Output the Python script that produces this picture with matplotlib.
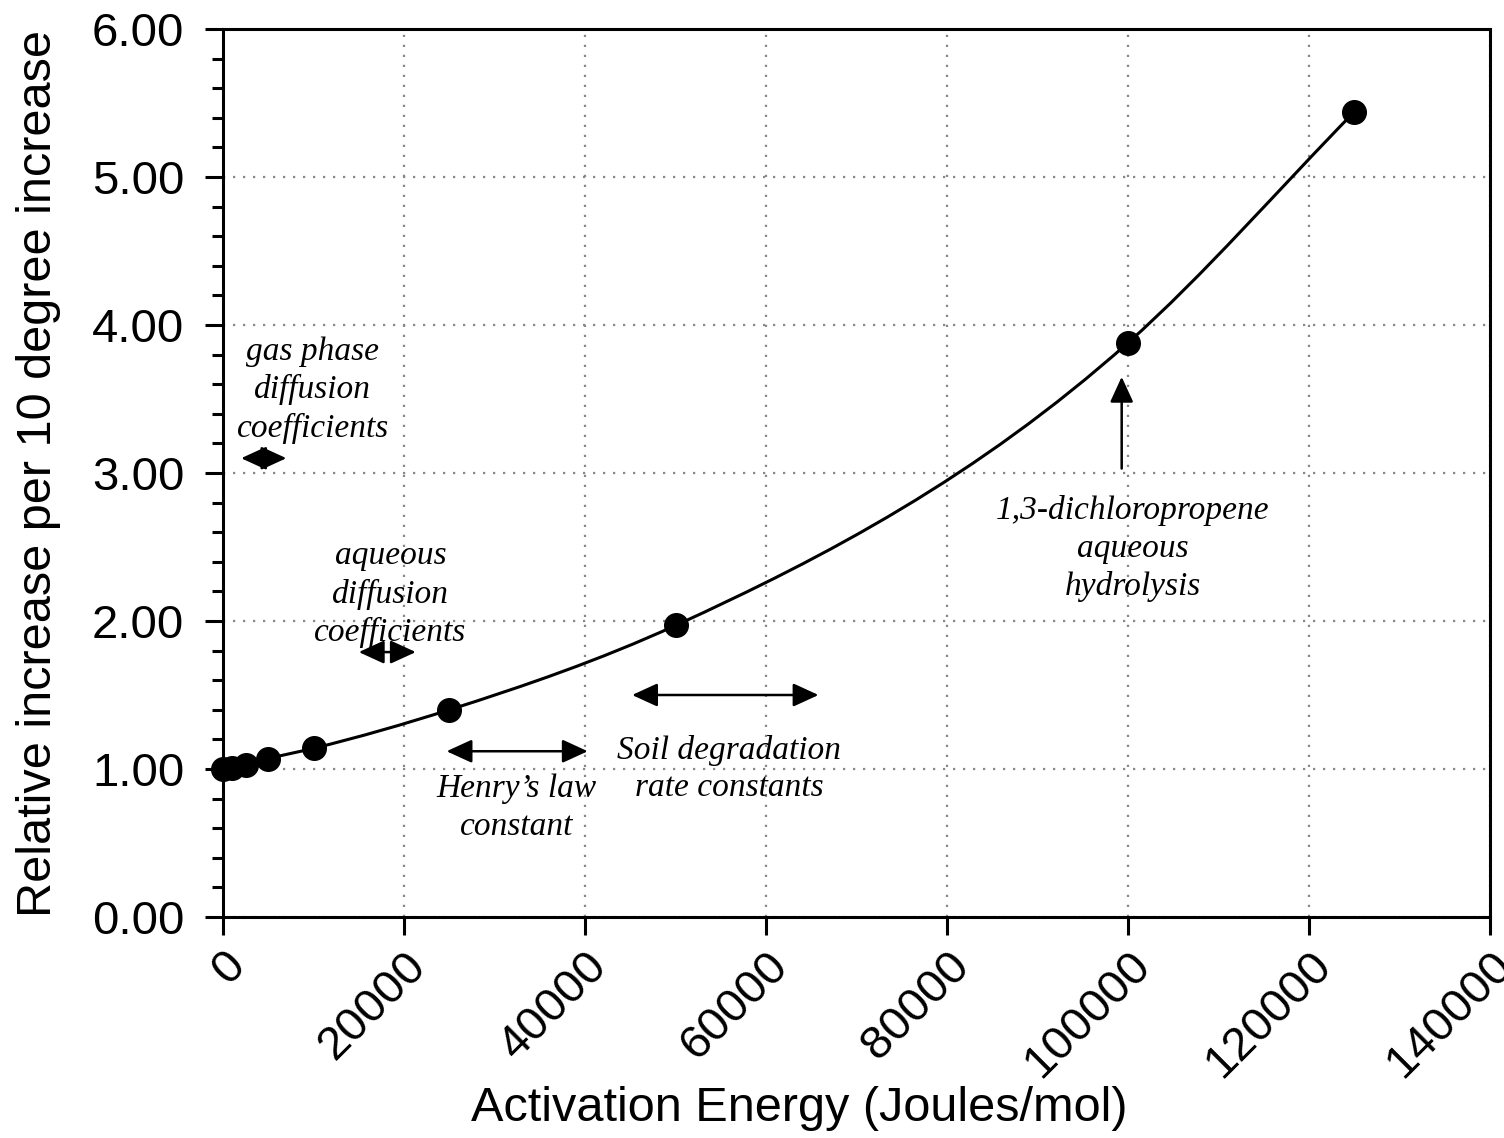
import matplotlib
matplotlib.use("Agg")
import matplotlib.pyplot as plt
from matplotlib.path import Path
from matplotlib.patches import PathPatch
from matplotlib.ticker import MultipleLocator, FormatStrFormatter
import numpy as np

# activation energy (J/mol) and relative increase per 10 degrees
energy = [0, 1000, 2500, 5000, 10000, 25000, 50000, 100000, 125000]
increase = [1.00, 1.01, 1.03, 1.07, 1.14, 1.40, 1.97, 3.88, 5.44]

# range arrows: (x start, x end, y)
ranges = [
    (2000, 7000, 3.10),
    (15000, 21300, 1.79),
    (24700, 40300, 1.12),
    (45200, 65800, 1.50),
]
# labels: (text, x, y)
labels = [
    ("gas phase\ndiffusion\ncoefficients", 9900, 3.56),
    ("aqueous\ndiffusion\ncoefficients", 18500, 2.18),
    ("Henry\u2019s law\nconstant", 32400, 0.74),
    ("Soil degradation\nrate constants", 55900, 1.00),
    ("1,3-dichloropropene\naqueous\nhydrolysis", 100500, 2.49),
]
hydrolysis_arrow = (99300, 3.03, 3.65)

plt.rcParams['font.family'] = ['Liberation Sans', 'DejaVu Sans']

fig = plt.figure(figsize=(15.04, 11.38), dpi=100)
ax = fig.add_axes([0.1483, 0.1942, 0.8424, 0.7803])

# smooth line through the points: cubic Hermite segments written as Bezier curves
xs = np.array(energy, dtype=float)
ys = np.array(increase, dtype=float)
h = np.diff(xs)
d = np.diff(ys) / h
m = np.empty_like(xs)
m[0] = d[0]
m[-1] = d[-1]
m[1:-1] = (d[:-1] * h[1:] + d[1:] * h[:-1]) / (h[:-1] + h[1:])
verts = [(xs[0], ys[0])]
codes = [Path.MOVETO]
for i in range(len(xs) - 1):
    verts += [(xs[i] + h[i] / 3, ys[i] + m[i] * h[i] / 3),
              (xs[i + 1] - h[i] / 3, ys[i + 1] - m[i + 1] * h[i] / 3),
              (xs[i + 1], ys[i + 1])]
    codes += [Path.CURVE4] * 3
ax.add_patch(PathPatch(Path(verts, codes), facecolor='none', edgecolor='black',
                       lw=2.2, zorder=3))

ax.plot(energy, increase, 'o', color='black', ms=17, zorder=4, clip_on=False)

astyle = dict(color='black', lw=1.8, shrinkA=0, shrinkB=0, mutation_scale=13)
for x0, x1, y in ranges:
    ax.annotate('', xy=(x1, y), xytext=(x0, y),
                arrowprops=dict(arrowstyle='<|-|>,head_length=1.2,head_width=0.55', **astyle))

hx, hy0, hy1 = hydrolysis_arrow
ax.annotate('', xy=(hx, hy1), xytext=(hx, hy0),
            arrowprops=dict(arrowstyle='-|>,head_length=1.2,head_width=0.55', **astyle))

for txt, x, y in labels:
    ax.text(x, y, txt, ha='center', va='center', fontsize=24, style='italic',
            family=['Liberation Serif', 'DejaVu Serif'], linespacing=1.3, zorder=5)

ax.set_xlim(0, 140000)
ax.set_ylim(0, 6)
ax.xaxis.set_major_locator(MultipleLocator(20000))
ax.yaxis.set_major_locator(MultipleLocator(1))
ax.yaxis.set_minor_locator(MultipleLocator(0.2))
ax.yaxis.set_major_formatter(FormatStrFormatter('%.2f'))

ax.grid(True, which='major', color='#888888', linestyle=(0, (1, 3.5)), lw=1.6)
ax.set_axisbelow(True)

for s in ax.spines.values():
    s.set_linewidth(2.2)
ax.tick_params(axis='both', which='major', direction='out', length=13, width=2.2,
               labelsize=34, pad=6)
ax.tick_params(axis='y', which='major', pad=15)
ax.tick_params(axis='y', which='minor', direction='out', length=8, width=2.2)
ax.tick_params(axis='x', which='minor', length=0)
plt.setp(ax.get_xticklabels(), rotation=45, ha='right', rotation_mode='anchor')

ax.set_xlabel('Activation Energy (Joules/mol)', fontsize=35)
ax.xaxis.set_label_coords(0.455, -0.19)
ax.set_ylabel('Relative increase per 10 degree increase', fontsize=35, labelpad=22)

fig.savefig('out.png', dpi=100)
